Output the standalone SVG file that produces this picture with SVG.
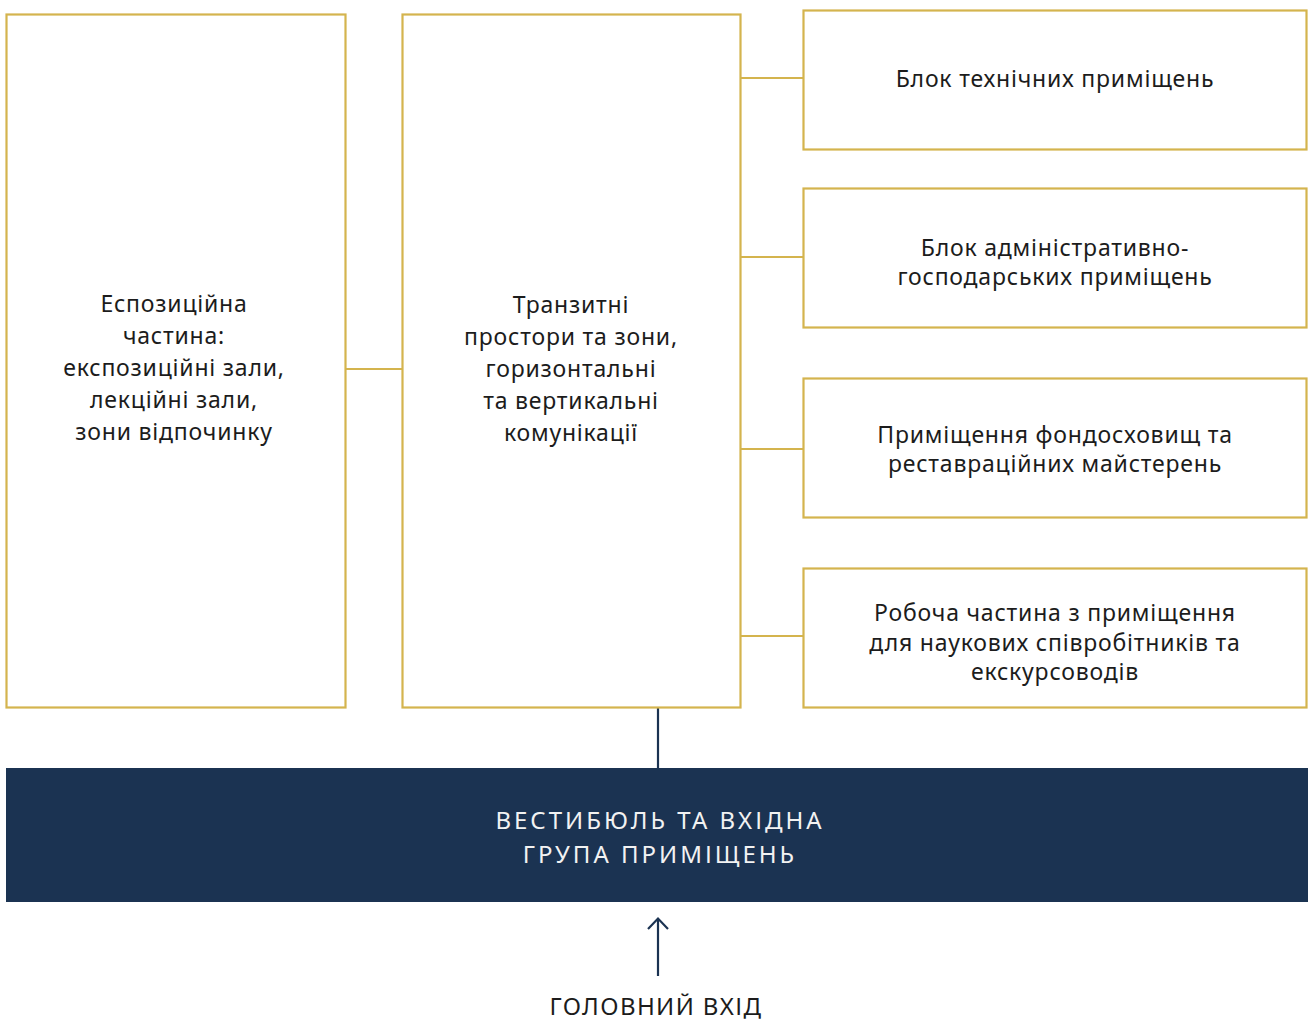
<svg xmlns="http://www.w3.org/2000/svg" width="1310" height="1021" viewBox="0 0 1310 1021">
<style>
.box{fill:#fff;stroke:#D4B44E;stroke-width:2.2}
.gl{stroke:#D4B44E;stroke-width:2.2;fill:none}
.nl{stroke:#1B3352;stroke-width:2.2;fill:none}
.t{font-family:"Noto Sans","Open Sans",sans-serif;font-size:23px;letter-spacing:0.8px;fill:#1c1c1c;text-anchor:middle}
.c{font-family:"Noto Sans","Open Sans",sans-serif;font-size:24px;letter-spacing:3px;text-anchor:middle}
</style>
<g id="connectors">
<line class="gl" x1="346" y1="369" x2="402" y2="369"/>
<line class="gl" x1="741" y1="78" x2="803" y2="78"/>
<line class="gl" x1="741" y1="257" x2="803" y2="257"/>
<line class="gl" x1="741" y1="449" x2="803" y2="449"/>
<line class="gl" x1="741" y1="636" x2="803" y2="636"/>
<line class="nl" x1="658" y1="708" x2="658" y2="768"/>
<line class="nl" x1="658" y1="976" x2="658" y2="919"/>
<path class="nl" d="M648,929 L658,918.5 L668,929"/>
</g>
<g id="expo">
<rect class="box" x="6.5" y="14.5" width="339" height="693"/>
<text class="t" x="174"><tspan x="174" y="312">Еспозиційна</tspan><tspan x="174" y="344">частина:</tspan><tspan x="174" y="376">експозиційні зали,</tspan><tspan x="174" y="408">лекційні зали,</tspan><tspan x="174" y="440">зони відпочинку</tspan></text>
</g>
<g id="transit">
<rect class="box" x="402.5" y="14.5" width="338" height="693"/>
<text class="t" x="571"><tspan x="571" y="313">Транзитні</tspan><tspan x="571" y="345">простори та зони,</tspan><tspan x="571" y="377">горизонтальні</tspan><tspan x="571" y="409">та вертикальні</tspan><tspan x="571" y="441">комунікації</tspan></text>
</g>
<g id="tech">
<rect class="box" x="803.5" y="10.5" width="503" height="139"/>
<text class="t" x="1055" y="87">Блок технічних приміщень</text>
</g>
<g id="admin">
<rect class="box" x="803.5" y="188.5" width="503" height="139"/>
<text class="t" x="1055"><tspan x="1055" y="256">Блок адміністративно-</tspan><tspan x="1055" y="285">господарських приміщень</tspan></text>
</g>
<g id="storage">
<rect class="box" x="803.5" y="378.5" width="503" height="139"/>
<text class="t" x="1055"><tspan x="1055" y="443">Приміщення фондосховищ та</tspan><tspan x="1055" y="472">реставраційних майстерень</tspan></text>
</g>
<g id="work">
<rect class="box" x="803.5" y="568.5" width="503" height="139"/>
<text class="t" x="1055"><tspan x="1055" y="621">Робоча частина з приміщення</tspan><tspan x="1055" y="651">для наукових співробітників та</tspan><tspan x="1055" y="680">екскурсоводів</tspan></text>
</g>
<g id="lobby">
<rect x="6" y="768" width="1302" height="134" fill="#1B3352"/>
<text class="c" fill="#F2F2F2" x="660"><tspan x="660" y="829">ВЕСТИБЮЛЬ ТА ВХІДНА</tspan><tspan x="660" y="863">ГРУПА ПРИМІЩЕНЬ</tspan></text>
</g>
<g id="entrance">
<text class="c" fill="#1c1c1c" x="656" y="1015" style="letter-spacing:1.4px">ГОЛОВНИЙ ВХІД</text>
</g>
</svg>
